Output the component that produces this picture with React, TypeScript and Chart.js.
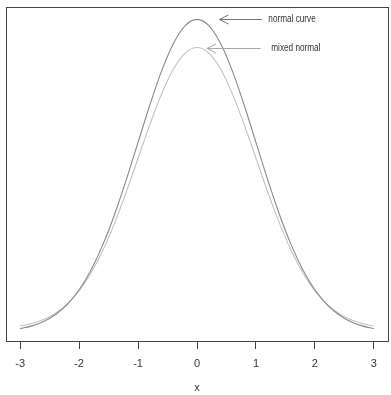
import React, { useEffect, useRef } from "react";
import { Chart, registerables } from "chart.js";

Chart.register(...registerables);

const xValues = [
  -3.0, -2.8, -2.6, -2.4, -2.2, -2.0, -1.8, -1.6, -1.4, -1.2, -1.0, -0.8, -0.6, -0.4, -0.2,
  0.0, 0.2, 0.4, 0.6, 0.8, 1.0, 1.2, 1.4, 1.6, 1.8, 2.0, 2.2, 2.4, 2.6, 2.8, 3.0,
];
const normalCurve = [
  0.00443, 0.00792, 0.01358, 0.02239, 0.03547, 0.05399, 0.07895, 0.11092, 0.14973, 0.19419,
  0.24197, 0.28969, 0.33322, 0.36827, 0.39104, 0.39894, 0.39104, 0.36827, 0.33322, 0.28969,
  0.24197, 0.19419, 0.14973, 0.11092, 0.07895, 0.05399, 0.03547, 0.02239, 0.01358, 0.00792,
  0.00443,
];
const mixedNormal = [
  0.0078, 0.0110, 0.0161, 0.0240, 0.0358, 0.0525, 0.0750, 0.1038, 0.1387, 0.1787, 0.2218,
  0.2647, 0.3039, 0.3355, 0.3559, 0.3630, 0.3559, 0.3355, 0.3039, 0.2647, 0.2218, 0.1787,
  0.1387, 0.1038, 0.0750, 0.0525, 0.0358, 0.0240, 0.0161, 0.0110, 0.0078,
];
const xTicks = [-3, -2, -1, 0, 1, 2, 3];
const labelTexts = ["normal curve", "mixed normal"];
const arrowFromX = [1.1, 1.08];
const arrowToX = [0.38, 0.17];
const labelX = [1.21, 1.26];
const labelY = [0.3994, 0.3624];
const arrowColors = ["#777777", "#a8a8a8"];

const FONT = "'Liberation Sans Narrow', 'Liberation Sans', Arial, sans-serif";

const overlayPlugin = {
  id: "overlay",
  afterDraw(chart: any) {
    const { ctx, chartArea, scales } = chart;
    const xs = scales.x;
    const ys = scales.y;
    ctx.save();
    // box
    ctx.strokeStyle = "#444444";
    ctx.lineWidth = 1;
    ctx.strokeRect(
      Math.round(chartArea.left) + 0.5,
      Math.round(chartArea.top) + 0.5,
      Math.round(chartArea.right - chartArea.left),
      Math.round(chartArea.bottom - chartArea.top)
    );
    // arrows and labels
    for (let i = 0; i < labelTexts.length; i++) {
      const y = Math.round(ys.getPixelForValue(labelY[i])) + 0.5;
      const x0 = xs.getPixelForValue(arrowFromX[i]);
      const x1 = xs.getPixelForValue(arrowToX[i]);
      ctx.strokeStyle = arrowColors[i];
      ctx.lineWidth = 1;
      ctx.beginPath();
      ctx.moveTo(x0, y);
      ctx.lineTo(x1, y);
      ctx.moveTo(x1 + 9, y - 4.5);
      ctx.lineTo(x1, y);
      ctx.lineTo(x1 + 9, y + 4.5);
      ctx.stroke();
      ctx.save();
      const tx = xs.getPixelForValue(labelX[i]);
      ctx.translate(tx, y);
      ctx.scale(0.82, 1);
      ctx.fillStyle = "#333333";
      ctx.font = `10px ${FONT}`;
      ctx.textAlign = "left";
      ctx.textBaseline = "middle";
      ctx.fillText(labelTexts[i], 0, 0);
      ctx.restore();
    }
    ctx.restore();
  },
};

export default function App() {
  const canvasRef = useRef<HTMLCanvasElement | null>(null);

  useEffect(() => {
    const canvas = canvasRef.current;
    if (!canvas) return;
    const chart = new Chart(canvas, {
      type: "line",
      data: {
        labels: xValues,
        datasets: [
          {
            label: "normal curve",
            data: xValues.map((x, i) => ({ x, y: normalCurve[i] })),
            borderColor: "#8a8a8a",
            borderWidth: 1.1,
            pointRadius: 0,
            tension: 0.4,
            cubicInterpolationMode: "monotone",
            fill: false,
          },
          {
            label: "mixed normal",
            data: xValues.map((x, i) => ({ x, y: mixedNormal[i] })),
            borderColor: "#c2c2c2",
            borderWidth: 1.1,
            pointRadius: 0,
            tension: 0.4,
            cubicInterpolationMode: "monotone",
            fill: false,
          },
        ],
      },
      options: {
        animation: false,
        responsive: false,
        devicePixelRatio: 1,
        layout: { padding: { left: 6, right: 3, top: 7, bottom: 0 } },
        plugins: { legend: { display: false }, tooltip: { enabled: false } },
        scales: {
          x: {
            type: "linear",
            min: -3.24,
            max: 3.24,
            afterBuildTicks: (scale: any) => {
              scale.ticks = xTicks.map((v) => ({ value: v }));
            },
            afterFit: (scale: any) => {
              scale.height = 54;
            },
            border: { display: false },
            grid: {
              drawOnChartArea: false,
              drawTicks: true,
              tickLength: 8,
              color: "#444444",
              lineWidth: 1,
            },
            ticks: {
              color: "#333333",
              font: { family: FONT, size: 11 },
              padding: 8,
              maxRotation: 0,
              autoSkip: false,
              callback: (v: any) => String(v),
            },
            title: {
              display: true,
              text: "x",
              color: "#333333",
              font: { family: FONT, size: 11 },
              padding: { top: 1, bottom: 0 },
            },
          },
          y: {
            type: "linear",
            display: false,
            min: -0.0114,
            max: 0.4147,
          },
        },
      },
      plugins: [overlayPlugin],
    } as any);
    return () => chart.destroy();
  }, []);

  return (
    <div style={{ position: "fixed", left: 0, top: 0, width: 391, height: 395, background: "#fff" }}>
      <canvas ref={canvasRef} width={391} height={395} style={{ width: 391, height: 395, display: "block" }} />
    </div>
  );
}
